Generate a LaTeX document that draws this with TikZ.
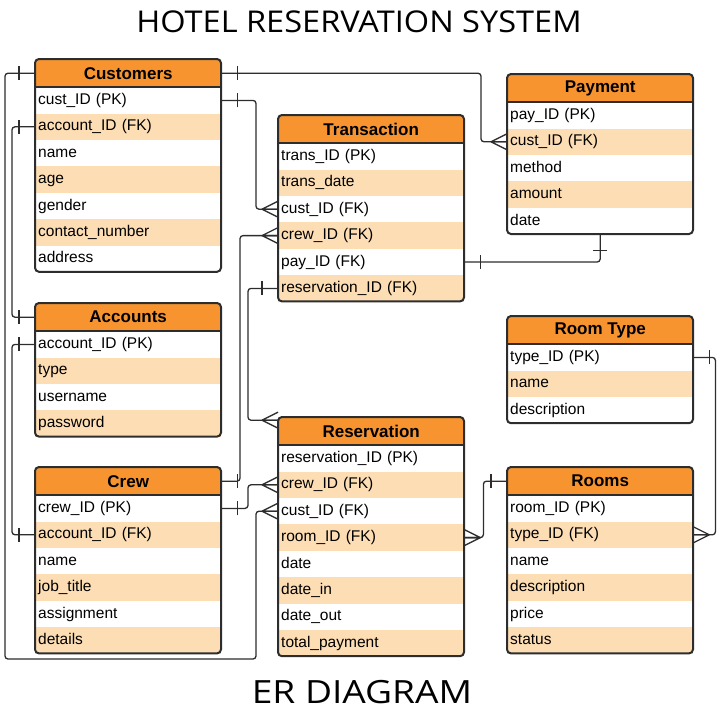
\documentclass[tikz,border=0pt]{standalone}
\usepackage{fontspec}
\usepackage{graphicx}
\setmainfont{Liberation Sans}
\newfontfamily\titlefont{Open Sans}
\usetikzlibrary{positioning}
\definecolor{headorange}{RGB}{247,148,48}
\definecolor{rowpeach}{RGB}{253,222,180}
\definecolor{framegray}{RGB}{45,45,45}

% table: name, left, top, title, number of rows, rows
\newcommand{\ertable}[6]{%
	\fill[headorange,rounded corners=4] (#2,#3) rectangle ++(186,34);
	\node[erhead,anchor=north west] (#1) at (#2,#3) {#4};
	\foreach \txt [count=\i] in {#6}{
		\ifodd\i\relax \def\rowcol{white}\else \def\rowcol{rowpeach}\fi
		\node[errow,fill=\rowcol,anchor=north west] (#1-\i) at (#2,{#3+28+(\i-1)*26.4}) {\txt};
	}
	\draw[erframe,rounded corners=4] (#2,#3) rectangle ++(186,{28+#5*26.4});
	\draw[erframe] (#2,#3+28) -- ++(186,0);
}

\begin{document}
\begin{tikzpicture}
		[x=1pt,y=-1pt,
		erhead/.style={font=\fontsize{17}{20}\selectfont\bfseries,minimum width=186pt,minimum height=28pt,inner sep=0pt},
		errow/.style={font=\fontsize{15.5}{18}\selectfont,text width=180pt,align=left,minimum height=26.4pt,
			inner xsep=3pt,inner ysep=0pt,text height=11.5pt,text depth=3.5pt},
		erframe/.style={draw=framegray,line width=2pt},
		conn/.style={draw=framegray,line width=1.3pt,rounded corners=3pt},
		crowfoot/.pic={\draw[conn] (-16,0) -- (0,-8) (-16,0) -- (0,0) (-16,0) -- (0,8);},
		onebar/.pic={\draw[conn] (-16,-7) -- (-16,7);},
		]
		\useasboundingbox (0,0) rectangle (720,720);

		\node[font=\titlefont\fontsize{30}{36}\selectfont] (title) at (359,22) {\scalebox{1.085}[1]{HOTEL RESERVATION SYSTEM}};
		\node[font=\titlefont\fontsize{32}{38}\selectfont] (subtitle) at (362,692) {\scalebox{1.16}[1]{ER DIAGRAM}};

		\ertable{cust}{35}{59}{Customers}{7}{cust\_ID (PK),account\_ID (FK),name,age,gender,contact\_number,address}
		\ertable{trans}{278}{115}{Transaction}{6}{trans\_ID (PK),trans\_date,cust\_ID (FK),crew\_ID (FK),pay\_ID (FK),reservation\_ID (FK)}
		\ertable{pay}{507}{74}{Payment}{5}{pay\_ID (PK),cust\_ID (FK),method,amount,date}
		\ertable{acct}{35}{303}{Accounts}{4}{account\_ID (PK),type,username,password}
		\ertable{crew}{35}{467}{Crew}{6}{crew\_ID (PK),account\_ID (FK),name,job\_title,assignment,details}
		\ertable{resv}{278}{417}{Reservation}{8}{reservation\_ID (PK),crew\_ID (FK),cust\_ID (FK),room\_ID (FK),date,date\_in,date\_out,total\_payment}
		\ertable{rtype}{507}{316}{Room Type}{3}{type\_ID (PK),name,description}
		\ertable{room}{507}{467}{Rooms}{6}{room\_ID (PK),type\_ID (FK),name,description,price,status}

		% relations
		\draw[conn] (cust.east) -| ([xshift=-26]pay-2.west) -- (pay-2.west);
		\pic[rotate=180] at (cust.east) {onebar};
		\pic at (pay-2.west) {crowfoot};

		\draw[conn] (cust-1.east) -| ([xshift=-22]trans-3.west) -- (trans-3.west);
		\pic[rotate=180] at (cust-1.east) {onebar};
		\pic at (trans-3.west) {crowfoot};

		\coordinate (custloop) at (5,659);
		\draw[conn] (cust.west) -| (custloop) -| ([xshift=-22]resv-3.west) -- (resv-3.west);
		\pic at (cust.west) {onebar};
		\pic at (resv-3.west) {crowfoot};

		\draw[conn] (cust-2.west) -| ([xshift=-23]acct.west) -- (acct.west);
		\pic at (cust-2.west) {onebar};
		\pic at (acct.west) {onebar};

		\draw[conn] (acct-1.west) -| ([xshift=-23]crew-2.west) -- (crew-2.west);
		\pic at (acct-1.west) {onebar};
		\pic at (crew-2.west) {onebar};

		\draw[conn] (crew.east) -| ([xshift=-38]trans-4.west) -- (trans-4.west);
		\pic[rotate=180] at (crew.east) {onebar};
		\pic at (trans-4.west) {crowfoot};

		\draw[conn] (crew-1.east) -| ([xshift=-30]resv-2.west) -- (resv-2.west);
		\pic[rotate=180] at (crew-1.east) {onebar};
		\pic at (resv-2.west) {crowfoot};

		\draw[conn] (trans-6.west) -| ([xshift=-30,yshift=11]resv.west) -- ([yshift=11]resv.west);
		\pic at (trans-6.west) {onebar};
		\pic at ([yshift=11]resv.west) {crowfoot};

		\draw[conn] (trans-5.east) -| (pay-5.south);
		\pic[rotate=180] at (trans-5.east) {onebar};
		\pic[rotate=90] at (pay-5.south) {onebar};

		\draw[conn] (rtype-1.east) -| ([xshift=22]room-2.east) -- (room-2.east);
		\pic[rotate=180] at (rtype-1.east) {onebar};
		\pic[rotate=180] at (room-2.east) {crowfoot};

		\draw[conn] (room.west) -| ([xshift=19]resv-4.east) -- (resv-4.east);
		\pic at (room.west) {onebar};
		\pic[rotate=180] at (resv-4.east) {crowfoot};
	\end{tikzpicture}
\end{document}
